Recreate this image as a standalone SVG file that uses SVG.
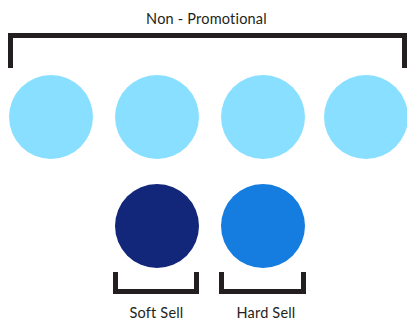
<svg xmlns="http://www.w3.org/2000/svg" width="407" height="322" viewBox="0 0 407 322">
<style>
.lbl{font-family:"Lato","Liberation Sans",sans-serif;font-size:14.5px;fill:#231f20;text-anchor:middle;letter-spacing:0.2px}
.br{fill:none;stroke:#231f20;stroke-width:5;stroke-linecap:butt;stroke-linejoin:miter}
.np{fill:#88dfff}
</style>
<rect width="407" height="322" fill="#ffffff"/>
<g id="connectors">
<path class="br" d="M10.5,68 V35.5 H404.5 V68"/>
<path class="br" d="M115.5,272 V291.5 H196.5 V272"/>
<path class="br" d="M221.5,272 V291.5 H303.5 V272"/>
</g>
<g id="non-promotional-label"><text class="lbl" x="206.5" y="23.5">Non - Promotional</text></g>
<g id="np1"><circle class="np" cx="51" cy="117" r="42"/></g>
<g id="np2"><circle class="np" cx="157" cy="117" r="42"/></g>
<g id="np3"><circle class="np" cx="263" cy="117" r="42"/></g>
<g id="np4"><circle class="np" cx="366" cy="117" r="42"/></g>
<g id="soft-sell"><circle cx="157" cy="226" r="42" fill="#12267a"/><text class="lbl" x="156.5" y="318">Soft Sell</text></g>
<g id="hard-sell"><circle cx="263" cy="226" r="42" fill="#157ddf"/><text class="lbl" x="266" y="318">Hard Sell</text></g>
</svg>
